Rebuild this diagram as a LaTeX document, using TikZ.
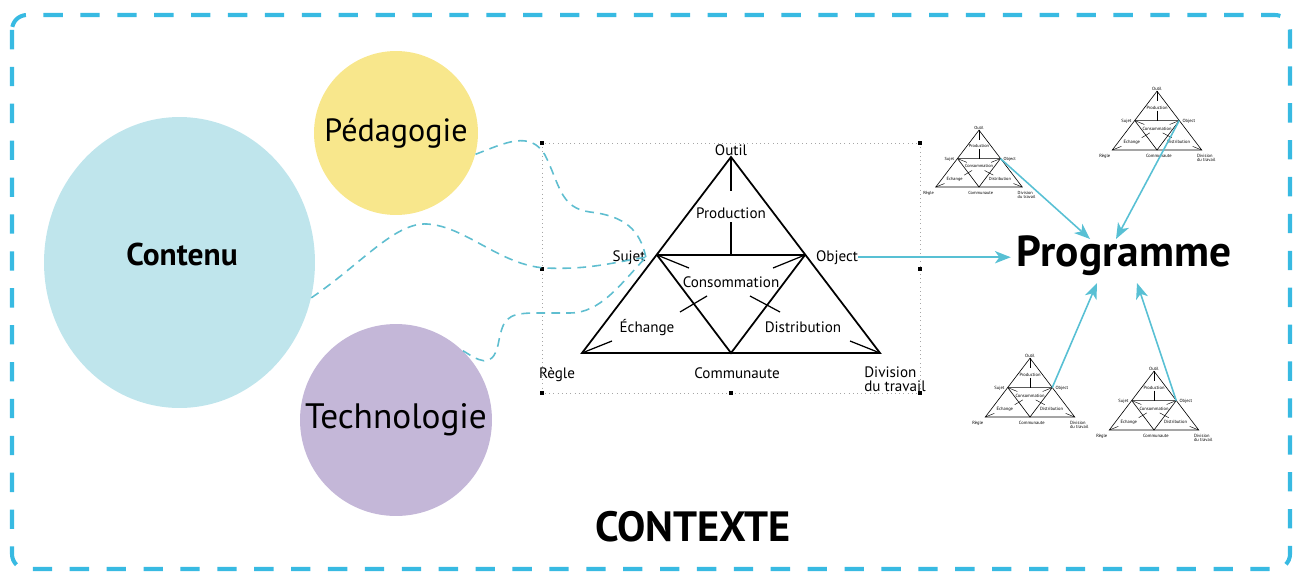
\documentclass[tikz,border=0pt]{standalone}
\usepackage{fontspec}
\setmainfont{PT Sans}
\usetikzlibrary{shapes.geometric, arrows.meta}

\definecolor{bordercyan}{RGB}{56,186,226}
\definecolor{linkcyan}{RGB}{95,190,208}
\definecolor{arrowcyan}{RGB}{88,192,212}
\definecolor{contenufill}{RGB}{191,229,236}
\definecolor{pedfill}{RGB}{248,231,140}
\definecolor{techfill}{RGB}{196,183,216}

\tikzset{
  lbl/.style={font=\fontsize{8.6}{10}\selectfont, inner sep=0pt, anchor=base},
  tri line/.style={line width=1pt},
  tri tick/.style={line width=0.7pt},
  tri/.pic={
    % corners
    \coordinate (-top) at (0,-196);
    \coordinate (-lft) at (-149,0);
    \coordinate (-rgt) at (149,0);
    \coordinate (-bot) at (0,0);
    \coordinate (-suj) at (-74,-98);
    \coordinate (-obj) at (74,-98);
    \draw[tri line] (-lft) -- (-top) -- (-rgt) -- cycle;
    \draw[tri line] (-suj) -- (-obj) (-suj) -- (-bot) -- (-obj);
    \draw[tri line] (-top) -- (0,-162) (0,-131) -- (0,-98);
    % little strokes
    \draw[tri tick] (-suj) -- (-42,-85) (-obj) -- (42,-85)
      (-51,-41) -- (-24,-57) (19,-57) -- (49,-41)
      (-lft) -- (-119,-12) (-rgt) -- (119,-12);
    % texts
    \node[lbl] (-outil) at (0,-198) {Outil};
    \node[lbl] (-prod) at (0,-135) {Production};
    \node[lbl] (-sujet) at (-102,-92) {Sujet};
    \node[lbl] (-object) at (106,-92) {Object};
    \node[lbl] (-conso) at (0,-66) {Consommation};
    \node[lbl] (-echange) at (-84,-21) {Échange};
    \node[lbl] (-distrib) at (72,-21) {Distribution};
    \node[lbl] (-regle) at (-174,25) {Règle};
    \node[lbl] (-commu) at (6,25) {Communaute};
    \node[lbl, anchor=base west, align=left, font=\fontsize{8.6}{7.8}\selectfont]
        (-division) at (133,38) {Division\\du travail};
  }
}

\begin{document}
\begin{tikzpicture}[x=0.02cm, y=-0.02cm,
    >={Stealth[length=9pt, width=7pt, inset=2.5pt]},
    blob/.style={inner sep=0pt},
    link/.style={draw=linkcyan, line width=0.9pt, dash pattern=on 5pt off 3.5pt},
    feed/.style={->, draw=arrowcyan, line width=0.9pt}]
    \useasboundingbox (0,0) rectangle (1295,572);

    % frame
    \draw[bordercyan, line width=2.3pt, dash pattern=on 11pt off 10pt, rounded corners=8.5pt]
        (12,15) rectangle (1290,569);
    \node[font=\fontsize{24.1}{28}\selectfont\bfseries] (ctx) at (693,527) {CONTEXTE};

    % the three circles
    \node[ellipse, fill=contenufill, minimum width=5.42cm, minimum height=5.82cm] (contenu) at (179.5,262.5) {};
    \node[font=\fontsize{17.9}{21}\selectfont\bfseries] (contenutxt) at (182,254) {Contenu};
    \node[blob, circle, fill=pedfill, minimum size=3.28cm, font=\fontsize{18.3}{21}\selectfont] (ped) at (396,133) {Pédagogie};
    \node[blob, circle, fill=techfill, minimum size=3.84cm, font=\fontsize{20.1}{23}\selectfont] (tech) at (396,420) {Technologie};

    % central triangle
    \draw[dotted, gray!70, line width=0.4pt] (542,143) rectangle (920,393);
    \foreach \hx/\hy in {542/143, 542/269, 542/393, 731/393, 920/393, 920/269, 920/143}
        \fill (\hx,\hy) ++(-2.2,-2.2) rectangle ++(4.4,4.4);
    \pic (c) at (731,353) {tri};

    % dashed links into Sujet
    \draw[link] (ped.-15) .. controls (505,143) and (530,130) .. (545,155)
        .. controls (560,185) and (560,208) .. (590,212)
        .. controls (625,216) and (640,230) .. (c-sujet.east);
    \draw[link] (contenu.-15) .. controls (360,265) and (395,222) .. (427,224)
        .. controls (465,226) and (500,265) .. (545,268)
        .. controls (590,270) and (615,262) .. (c-sujet.east);
    \draw[link] (tech.46) .. controls (478,360) and (492,370) .. (498,345)
        .. controls (503,320) and (505,313) .. (535,313) -- (570,313)
        .. controls (600,313) and (620,285) .. (c-sujet.east);

    % Programme and the small triangles
    \node[font=\fontsize{24.7}{28}\selectfont\bfseries] (prog) at (1124,256) {Programme};
    \coordinate (in1) at (1090,239);
    \coordinate (in2) at (1116,239);
    \coordinate (in3) at (1097,283);
    \coordinate (in4) at (1137,283);

    \begin{scope}[tri line/.style={line width=0.35pt}, tri tick/.style={line width=0.25pt}]
        \pic[scale=0.29, transform shape] (t1) at (979,187) {tri};
        \pic[scale=0.30, transform shape] (t2) at (1157,150) {tri};
        \pic[scale=0.30, transform shape] (t3) at (1030,417) {tri};
        \pic[scale=0.30, transform shape] (t4) at (1154,430) {tri};
    \end{scope}

    \draw[feed] (c-object.east) -- (c-object.east -| prog.west);
    \draw[feed] (t1-obj) -- (in1);
    \draw[feed] (t2-obj) -- (in2);
    \draw[feed] (t3-obj) -- (in3);
    \draw[feed] (t4-obj) -- (in4);
\end{tikzpicture}
\end{document}
